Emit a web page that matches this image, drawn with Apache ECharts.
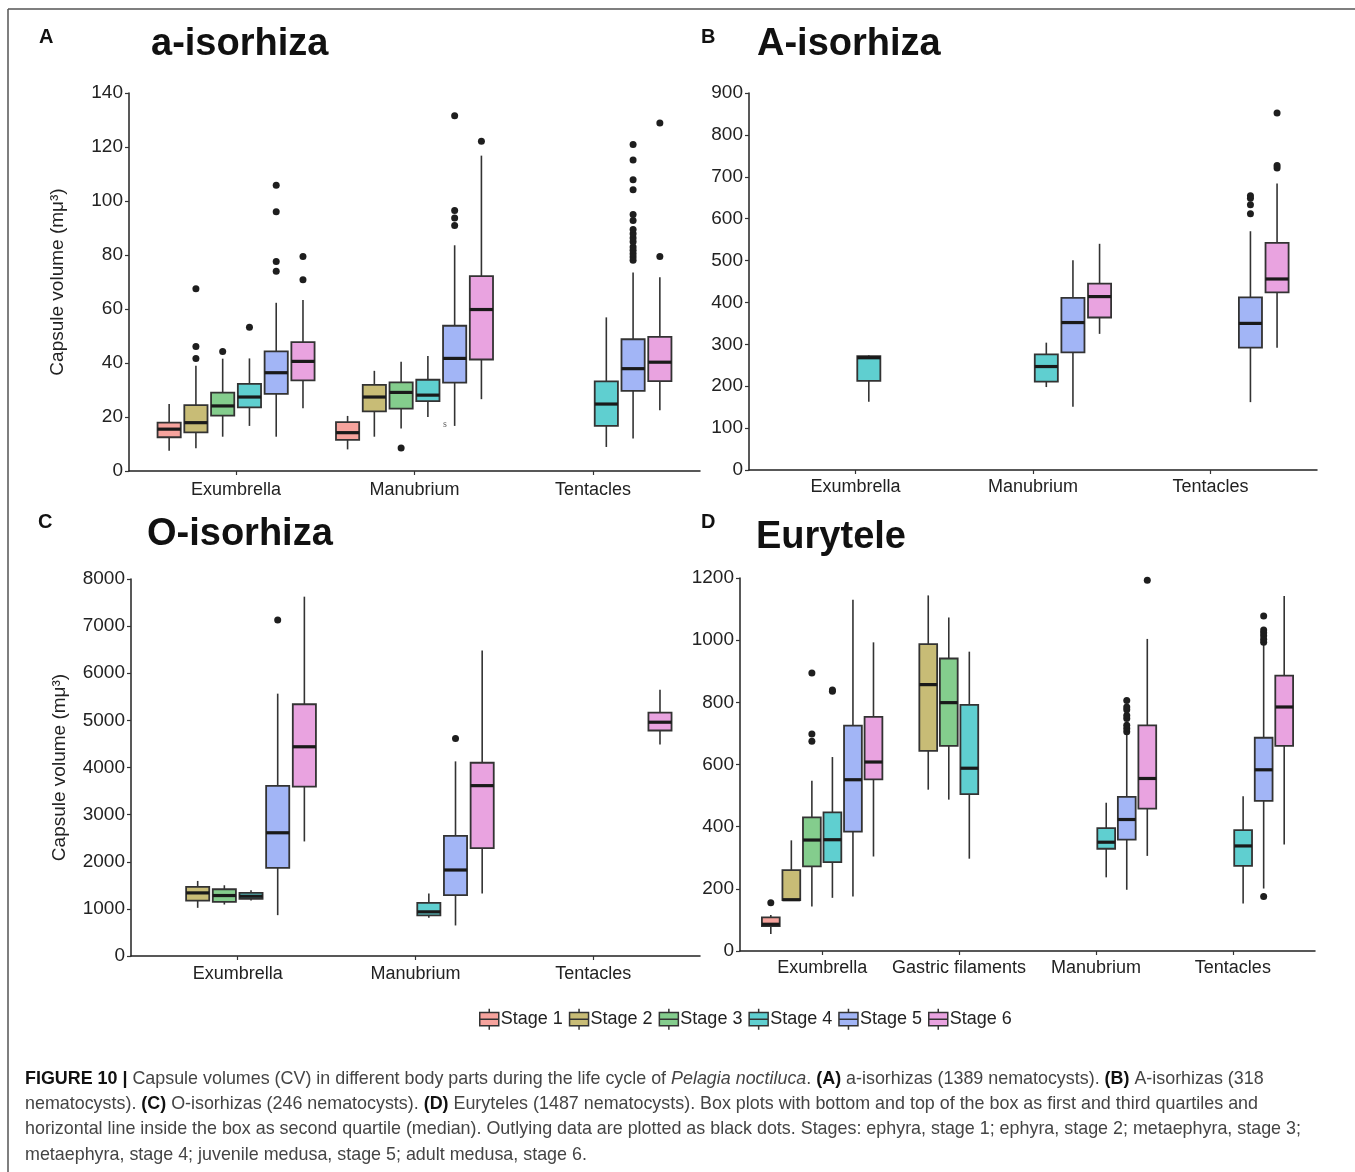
<!DOCTYPE html>
<html><head><meta charset="utf-8">
<script src="https://cdn.jsdelivr.net/npm/echarts@6/dist/echarts.min.js"></script>
<style>html,body{margin:0;padding:0;background:#fff}#c{width:1355px;height:1172px}</style>
</head><body><div id="c"></div>
<script>
// ---------- categories & stages ----------
const stages = ['Stage 1', 'Stage 2', 'Stage 3', 'Stage 4', 'Stage 5', 'Stage 6'];
const catsA = ['Exumbrella', 'Manubrium', 'Tentacles'];
const catsB = ['Exumbrella', 'Manubrium', 'Tentacles'];
const catsC = ['Exumbrella', 'Manubrium', 'Tentacles'];
const catsD = ['Exumbrella', 'Gastric filaments', 'Manubrium', 'Tentacles'];

// ---------- y-axis ticks ----------
const ticksA = [0, 20, 40, 60, 80, 100, 120, 140];
const ticksB = [0, 100, 200, 300, 400, 500, 600, 700, 800, 900];
const ticksC = [0, 1000, 2000, 3000, 4000, 5000, 6000, 7000, 8000];
const ticksD = [0, 200, 400, 600, 800, 1000, 1200];

// ---------- box stats per stage: [min, Q1, median, Q3, max] per category ----------
// Panel A: a-isorhiza
const boxA1 = [[7.5, 12.5, 15.5, 17.9, 24.8], [8, 11.5, 14.2, 18.1, 20.4], null];
const boxA2 = [[8.4, 14.3, 17.9, 24.4, 39], [12.7, 22.1, 27.4, 31.9, 37.1], null];
const boxA3 = [[12.7, 20.5, 24.1, 29, 41.6], [15.7, 23.1, 29.1, 32.8, 40.5], null];
const boxA4 = [[16.7, 23.6, 27.4, 32.3, 41.7], [20, 25.9, 28.1, 33.8, 42.6], [8.9, 16.7, 24.8, 33.2, 56.9]];
const boxA5 = [[12.7, 28.6, 36.4, 44.3, 62.3], [16.7, 32.7, 41.7, 53.8, 83.6], [12, 29.7, 37.9, 48.8, 73.5]];
const boxA6 = [[23.2, 33.6, 40.6, 47.7, 63.3], [26.6, 41.3, 59.8, 72.2, 116.8], [22.5, 33.3, 40.3, 49.7, 71.8]];
// outliers: [categoryIndex, value]
const outA1 = [];
const outA2 = [[0, 41.7], [0, 46.1], [0, 67.5]];
const outA3 = [[0, 44.3], [1, 8.5]];
const outA4 = [[0, 53.2]];
const outA5 = [[0, 74], [0, 77.6], [0, 96], [0, 105.8], [1, 90.9], [1, 93.7], [1, 96.5], [1, 131.6],
  [2, 78.1], [2, 79.3], [2, 80.5], [2, 81.8], [2, 83], [2, 84.9], [2, 86.3], [2, 87.9], [2, 89.4],
  [2, 92.8], [2, 95], [2, 104.2], [2, 107.9], [2, 115.2], [2, 120.9]];
const outA6 = [[0, 70.8], [0, 79.4], [1, 122.1], [2, 79.4], [2, 128.9]];

// Panel B: A-isorhiza
const boxB4 = [[163, 213, 268, 272, 274], [198, 211, 247, 276, 304], null];
const boxB5 = [null, [151, 281, 352, 411, 501], [162, 292, 350, 412, 570]];
const boxB6 = [null, [325, 364, 414, 445, 540], [292, 424, 456, 542, 684]];
const outB5 = [[2, 612], [2, 633], [2, 649], [2, 655]];
const outB6 = [[2, 721], [2, 727], [2, 852]];

// Panel C: O-isorhiza
const boxC2 = [[1022, 1177, 1339, 1466, 1593], null, null];
const boxC3 = [[1092, 1149, 1283, 1416, 1501], null, null];
const boxC4 = [[1177, 1212, 1268, 1339, 1395], [810, 860, 937, 1128, 1325], null];
const boxC5 = [[867, 1868, 2615, 3608, 5567], [648, 1290, 1825, 2551, 4130], null];
const boxC6 = [[2431, 3594, 4440, 5342, 7625], [1325, 2290, 3615, 4101, 6483], [4489, 4785, 4961, 5166, 5652]];
const outC5 = [[0, 7132], [1, 4616]];

// Panel D: Eurytele
const boxD1 = [[55, 80, 86, 108, 116], null, null, null];
const boxD2 = [[163, 164, 165, 260, 356], [519, 644, 857, 987, 1144], null, null];
const boxD3 = [[143, 272, 357, 430, 548], [487, 660, 799, 941, 1073], null, null];
const boxD4 = [[171, 286, 358, 446, 624], [297, 505, 588, 792, 963], [237, 329, 350, 395, 477], [153, 274, 338, 389, 498]];
const boxD5 = [[175, 384, 551, 725, 1130], null, [197, 358, 423, 496, 695], [201, 483, 583, 686, 985]];
const boxD6 = [[304, 552, 608, 753, 993], null, [306, 458, 555, 726, 1004], [343, 660, 785, 886, 1142]];
const outD1 = [[0, 155]];
const outD3 = [[0, 675], [0, 698], [0, 894]];
const outD4 = [[0, 836], [0, 840]];
const outD5 = [[2, 705], [2, 716], [2, 726], [2, 748], [2, 758], [2, 776], [2, 785], [2, 806],
  [3, 175], [3, 993], [3, 1003], [3, 1014], [3, 1024], [3, 1033], [3, 1078]];
const outD6 = [[2, 1193]];

// ---------- styles ----------
const stageColors = ['#F6A39D', '#C8BC76', '#84CD8D', '#5FCFD0', '#A2B5F6', '#E9A3E0'];
const F = "'Liberation Sans', Arial, Helvetica, sans-serif";
const SLOT = 0.15, BOX_W = 0.13;
const INK = '#222';

const chart = echarts.init(document.getElementById('c'), null, { renderer: 'canvas' });

function renderBox(params, api) {
  const x = api.value(0);
  const lo = api.coord([x, api.value(1)]);
  const q1 = api.coord([x, api.value(2)]);
  const md = api.coord([x, api.value(3)]);
  const q3 = api.coord([x, api.value(4)]);
  const hi = api.coord([x, api.value(5)]);
  const w = api.size([BOX_W, 0])[0];
  const color = api.visual('color');
  return {
    type: 'group',
    children: [
      { type: 'line', shape: { x1: lo[0], y1: lo[1], x2: q1[0], y2: q1[1] }, style: { stroke: '#333', lineWidth: 1.6 } },
      { type: 'line', shape: { x1: q3[0], y1: q3[1], x2: hi[0], y2: hi[1] }, style: { stroke: '#333', lineWidth: 1.6 } },
      { type: 'rect', shape: { x: q3[0] - w / 2, y: q3[1], width: w, height: q1[1] - q3[1] },
        style: { fill: color, stroke: '#333', lineWidth: 1.8 } },
      { type: 'line', shape: { x1: md[0] - w / 2, y1: md[1], x2: md[0] + w / 2, y2: md[1] },
        style: { stroke: '#1a1a1a', lineWidth: 3.2 } }
    ]
  };
}

const series = [];
function addPanel(gi, boxes, outs) {
  boxes.forEach((arr, s) => {
    if (!arr) return;
    const data = [];
    arr.forEach((b, ci) => { if (b) data.push([ci + 1 + (s - 2.5) * SLOT].concat(b)); });
    series.push({
      type: 'custom', name: stages[s], xAxisIndex: gi, yAxisIndex: gi,
      renderItem: renderBox, data: data, encode: { x: 0, y: [1, 2, 3, 4, 5] },
      itemStyle: { color: stageColors[s] }, z: 2, silent: true
    });
  });
  outs.forEach((arr, s) => {
    if (!arr || !arr.length) return;
    series.push({
      type: 'scatter', name: 'outliers', xAxisIndex: gi, yAxisIndex: gi, symbolSize: 7,
      itemStyle: { color: '#1e1e1e', opacity: 1 }, z: 5, silent: true,
      data: arr.map(p => [p[0] + 1 + (s - 2.5) * SLOT, p[1]])
    });
  });
}
addPanel(0, [boxA1, boxA2, boxA3, boxA4, boxA5, boxA6], [outA1, outA2, outA3, outA4, outA5, outA6]);
addPanel(1, [null, null, null, boxB4, boxB5, boxB6], [null, null, null, null, outB5, outB6]);
addPanel(2, [null, boxC2, boxC3, boxC4, boxC5, boxC6], [null, null, null, null, outC5, null]);
addPanel(3, [boxD1, boxD2, boxD3, boxD4, boxD5, boxD6], [outD1, null, outD3, outD4, outD5, outD6]);

function xAx(gi, cats, margin) {
  const pos = cats.map((c, i) => i + 1);
  return {
    gridIndex: gi, type: 'value', min: 0.4, max: cats.length + 0.6,
    splitLine: { show: false },
    axisLine: { show: true, onZero: false, lineStyle: { color: INK, width: 1.5 } },
    axisTick: { show: true, customValues: pos, length: 4, lineStyle: { color: '#333', width: 1.2 } },
    axisLabel: { customValues: pos, formatter: v => cats[Math.round(v) - 1] || '',
      fontSize: 18, color: INK, margin: margin, fontFamily: F }
  };
}
function yAx(gi, ticks, name) {
  return {
    gridIndex: gi, type: 'value', min: ticks[0], max: ticks[ticks.length - 1],
    interval: ticks[1] - ticks[0],
    splitLine: { show: false },
    axisLine: { show: true, lineStyle: { color: INK, width: 1.5 } },
    axisTick: { show: true, length: 4, lineStyle: { color: '#333', width: 1.2 } },
    axisLabel: { fontSize: 19, color: INK, margin: 6, fontFamily: F, formatter: v => String(v) },
    name: name || '', nameLocation: 'middle', nameGap: 62,
    nameTextStyle: { fontSize: 19, color: INK, fontFamily: F }
  };
}

const yName = 'Capsule volume (mμ³)';
const legendIcon = 'path://M0,4H20V18H0Z M0,11H20 M10,0V4 M10,18V22';

function txt(x, y, text, font, extra) {
  return {
    type: 'text', x: x, y: y, silent: true,
    style: Object.assign({ text: text, font: font, fill: '#111', textVerticalAlign: 'middle', verticalAlign: 'middle' }, extra || {})
  };
}
const capFont = "'Liberation Sans', Arial, sans-serif";
const capSize = 17.9;
const capRich = {
  b: { fontWeight: 'bold', fill: '#111', color: '#111', fontSize: capSize, fontFamily: capFont },
  i: { fontStyle: 'italic', fill: '#444', color: '#444', fontSize: capSize, fontFamily: capFont }
};
const capLines = [
  '{b|FIGURE 10 |} Capsule volumes (CV) in different body parts during the life cycle of {i|Pelagia noctiluca}. {b|(A)} a-isorhizas (1389 nematocysts). {b|(B)} A-isorhizas (318',
  'nematocysts). {b|(C)} O-isorhizas (246 nematocysts). {b|(D)} Euryteles (1487 nematocysts). Box plots with bottom and top of the box as first and third quartiles and',
  'horizontal line inside the box as second quartile (median). Outlying data are plotted as black dots. Stages: ephyra, stage 1; ephyra, stage 2; metaephyra, stage 3;',
  'metaephyra, stage 4; juvenile medusa, stage 5; adult medusa, stage 6.'
];
const capY = [1079, 1104, 1129, 1155];

const graphics = [
  { type: 'line', silent: true, shape: { x1: 8, y1: 9, x2: 1355, y2: 9 }, style: { stroke: '#555', lineWidth: 1.5 } },
  { type: 'line', silent: true, shape: { x1: 8, y1: 9, x2: 8, y2: 1172 }, style: { stroke: '#555', lineWidth: 1.5 } },
  txt(39, 37, 'A', 'bold 20px ' + F),
  txt(701, 37, 'B', 'bold 20px ' + F),
  txt(38, 522, 'C', 'bold 20px ' + F),
  txt(701, 522, 'D', 'bold 20px ' + F),
  txt(151, 45, 'a-isorhiza', 'bold 38px ' + F),
  txt(757, 45, 'A-isorhiza', 'bold 38px ' + F),
  txt(147, 535, 'O-isorhiza', 'bold 38px ' + F),
  txt(756, 538, 'Eurytele', 'bold 38px ' + F),
  txt(443, 424, 's', '10px serif', { fill: '#666' })
];
capLines.forEach((l, i) => {
  graphics.push({
    type: 'text', x: 25, y: capY[i], silent: true,
    style: { text: l, fontSize: capSize, fontFamily: capFont, fill: '#444', textVerticalAlign: 'middle', verticalAlign: 'middle', rich: capRich }
  });
});

chart.setOption({
  animation: false,
  backgroundColor: '#fff',
  grid: [
    { left: 129, top: 93, width: 571, height: 378 },
    { left: 749, top: 93, width: 568, height: 377 },
    { left: 131, top: 579, width: 569, height: 377 },
    { left: 740, top: 578, width: 575, height: 373 }
  ],
  xAxis: [xAx(0, catsA, 10), xAx(1, catsB, 8), xAx(2, catsC, 9), xAx(3, catsD, 8)],
  yAxis: [yAx(0, ticksA, yName), yAx(1, ticksB), yAx(2, ticksC, yName), yAx(3, ticksD)],
  legend: {
    data: stages.map((n, i) => ({ name: n, icon: legendIcon,
      itemStyle: { color: stageColors[i], borderColor: '#333', borderWidth: 1.5 } })),
    left: 474, top: 1003, itemWidth: 19, itemHeight: 22, itemGap: 6, selectedMode: false,
    textStyle: { fontSize: 18, color: INK, fontFamily: F, padding: [0, 0, 0, -3] }
  },
  graphic: graphics,
  series: series
});
</script>
</body></html>
